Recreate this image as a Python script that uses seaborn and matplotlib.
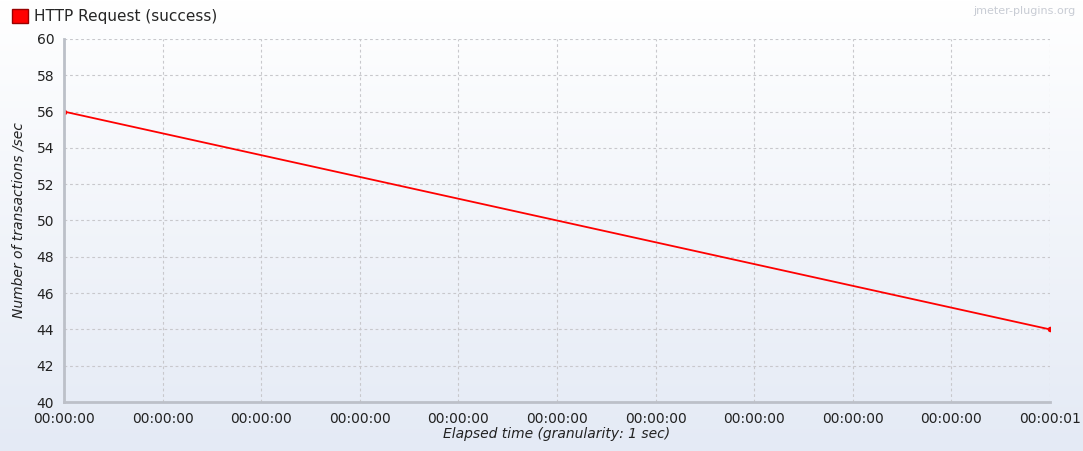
import numpy as np
import pandas as pd
import matplotlib
matplotlib.use("Agg")
import matplotlib.pyplot as plt
import seaborn as sns
from matplotlib.patches import Patch

# data
elapsed = [0.0, 1.0]
tps = [56, 44]
tick_pos = [0.0, 0.1, 0.2, 0.3, 0.4, 0.5, 0.6, 0.7, 0.8, 0.9, 1.0]
tick_labels = ["00:00:00"] * 10 + ["00:00:01"]
y_ticks = [40, 42, 44, 46, 48, 50, 52, 54, 56, 58, 60]
series_name = "HTTP Request (success)"

df = pd.DataFrame({"elapsed": elapsed, "tps": tps})

sns.set_style("white")
plt.rcParams['font.family'] = ['DejaVu Sans']

fig = plt.figure(figsize=(10.83, 4.51), dpi=100)

# background gradient white -> pale blue
bg = fig.add_axes([0, 0, 1, 1], zorder=-10)
grad = np.linspace(0, 1, 256).reshape(-1, 1)
top = np.array([1.0, 1.0, 1.0])
bot = np.array([0xe4, 0xea, 0xf5]) / 255
img = top + (bot - top) * grad[..., None]
bg.imshow(img, aspect="auto", extent=[0, 1, 0, 1], origin="upper")
bg.axis("off")

ax = fig.add_axes([0.0591, 0.1086, 0.9104, 0.805])
ax.patch.set_alpha(0)

sns.lineplot(data=df, x="elapsed", y="tps", ax=ax, color="#ff0000",
             linewidth=1.3, marker="o", markersize=4, markeredgewidth=0)

ax.set_xlim(0, 1)
ax.set_ylim(40, 60)
ax.set_xticks(tick_pos)
ax.set_xticklabels(tick_labels)
ax.set_yticks(y_ticks)
ax.grid(True, color="#c8c8cc", linestyle=(0, (2.5, 2.5)), linewidth=0.8)
for s in ["top", "right"]:
    ax.spines[s].set_visible(False)
for s in ["left", "bottom"]:
    ax.spines[s].set_color("#bcc0c8")
    ax.spines[s].set_linewidth(2)
ax.tick_params(axis="both", labelsize=10, length=4,
               width=1, color="#bcc0c8", pad=3)
ax.tick_params(axis="both", labelcolor="#222222")

ax.set_xlabel("Elapsed time (granularity: 1 sec)", fontsize=10, style="italic",
              color="#222222", labelpad=1)
ax.set_ylabel("Number of transactions /sec", fontsize=10, style="italic",
              color="#222222", labelpad=8)

fig.legend(handles=[Patch(facecolor="#ff0000", edgecolor="#990000", label=series_name)],
           loc="upper left", bbox_to_anchor=(0.003, 1.0), frameon=False,
           fontsize=11, handlelength=1.0, handleheight=1.0, handletextpad=0.4,
           borderaxespad=0.2)

fig.text(0.993, 0.975, "jmeter-plugins.org", ha="right", va="center",
         fontsize=8, color="#c8ccd4")

fig.savefig("out.png", dpi=100)
